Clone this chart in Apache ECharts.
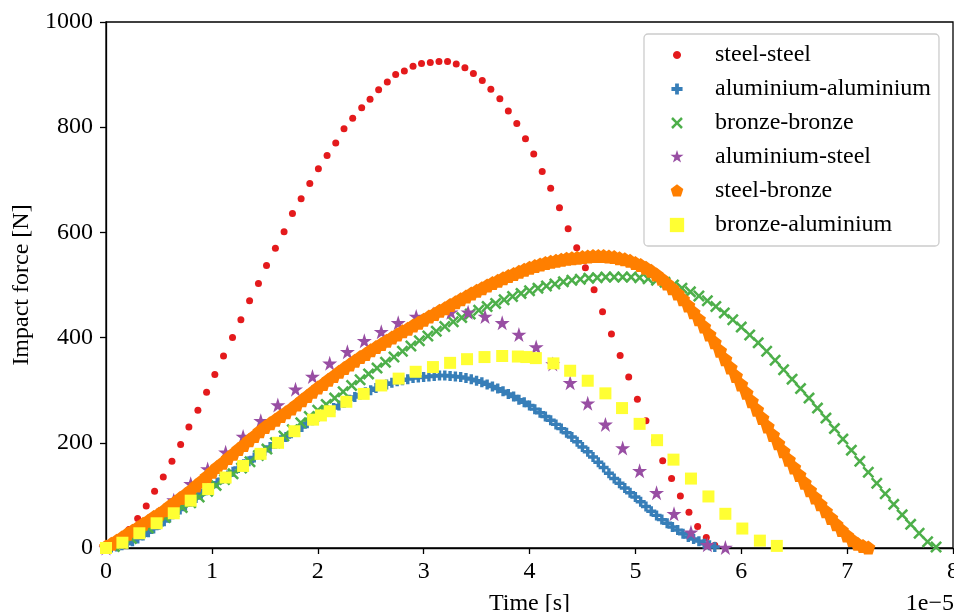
<!DOCTYPE html>
<html>
<head>
<meta charset="utf-8">
<script src="https://cdn.jsdelivr.net/npm/echarts@6/dist/echarts.min.js"></script>
<style>
html,body{margin:0;padding:0;background:#fff;}
#chart{width:954px;height:612px;}
</style>
</head>
<body>
<div id="chart"></div>
<script>
// ---- Data (time in units of 1e-5 s, force in N) ----
const seriesNames = ['steel-steel','aluminium-aluminium','bronze-bronze','aluminium-steel','steel-bronze','bronze-aluminium'];
const xTickLabels = ['0','1','2','3','4','5','6','7','8'];
const axisOffsetText = '1e\u22125';

const steelSteel = [[0.05,3],[0.135,15],[0.217,35],[0.299,56],[0.38,80],[0.459,108],[0.541,135],[0.623,165],[0.705,197],[0.783,230],[0.868,262],[0.95,296],[1.028,330],[1.11,365],[1.195,400],[1.274,434],[1.356,470],[1.44,503],[1.516,537],[1.60,570],[1.682,601],[1.761,636],[1.843,664],[1.925,693],[2.006,721],[2.088,746],[2.17,770],[2.248,797],[2.33,817],[2.415,837],[2.494,853],[2.575,871],[2.657,886],[2.736,900],[2.818,907],[2.90,916],[2.98,921],[3.063,923],[3.145,925],[3.226,925],[3.308,920],[3.39,913],[3.47,902],[3.554,889],[3.635,872],[3.72,854],[3.80,831],[3.88,807],[3.962,778],[4.04,749],[4.12,716],[4.20,684],[4.283,647],[4.365,607],[4.446,571],[4.528,533],[4.61,491],[4.69,449],[4.774,407],[4.856,366],[4.937,325],[5.019,283],[5.10,242],[5.18,204],[5.258,166],[5.342,132],[5.425,99],[5.506,68],[5.588,41],[5.67,20],[5.75,5]];

const aluAlu = [[0.00,0],[0.05,1],[0.10,3],[0.15,5],[0.20,8],[0.25,13],[0.30,18],[0.35,24],[0.40,30],[0.45,37],[0.50,44],[0.55,51],[0.60,58],[0.65,66],[0.70,73],[0.75,81],[0.80,88],[0.85,95],[0.90,103],[0.95,110],[1.00,117],[1.05,124],[1.10,131],[1.15,138],[1.20,145],[1.25,152],[1.30,159],[1.35,165],[1.40,172],[1.45,179],[1.50,185],[1.55,192],[1.60,198],[1.65,205],[1.70,211],[1.75,218],[1.80,224],[1.85,230],[1.90,237],[1.95,243],[2.00,249],[2.05,255],[2.10,260],[2.15,266],[2.20,271],[2.25,276],[2.30,282],[2.35,287],[2.40,292],[2.45,296],[2.50,300],[2.55,304],[2.60,308],[2.65,311],[2.70,314],[2.75,317],[2.80,319],[2.85,321],[2.90,323],[2.95,324],[3.00,325],[3.05,326],[3.10,327],[3.15,328],[3.20,328],[3.25,327],[3.30,326],[3.35,325],[3.40,323],[3.45,321],[3.50,318],[3.55,315],[3.60,311],[3.65,307],[3.70,303],[3.75,298],[3.80,293],[3.85,288],[3.90,282],[3.95,277],[4.00,271],[4.05,264],[4.10,257],[4.15,250],[4.20,243],[4.25,235],[4.30,227],[4.35,219],[4.40,211],[4.45,202],[4.50,192],[4.55,183],[4.60,173],[4.65,163],[4.70,153],[4.75,142],[4.80,132],[4.85,123],[4.90,114],[4.95,105],[5.00,97],[5.05,88],[5.10,79],[5.15,70],[5.20,62],[5.25,54],[5.30,47],[5.35,40],[5.40,34],[5.45,27],[5.50,21],[5.55,17],[5.60,13],[5.65,8],[5.70,5],[5.75,2]];

const bronzeBronze = [[0.00,0],[0.08,3],[0.16,9],[0.24,18],[0.32,28],[0.40,38],[0.48,48],[0.56,58],[0.64,68],[0.72,77],[0.80,86],[0.88,97],[0.96,108],[1.04,119],[1.12,130],[1.20,141],[1.28,152],[1.36,164],[1.44,176],[1.52,188],[1.60,200],[1.68,213],[1.76,225],[1.84,238],[1.92,250],[2.00,262],[2.08,273],[2.16,285],[2.24,297],[2.32,309],[2.40,320],[2.48,331],[2.56,342],[2.64,353],[2.72,363],[2.80,374],[2.88,384],[2.96,394],[3.04,403],[3.12,412],[3.20,421],[3.28,430],[3.36,438],[3.44,445],[3.52,452],[3.60,459],[3.68,465],[3.76,472],[3.84,478],[3.92,484],[4.00,489],[4.08,494],[4.16,498],[4.24,502],[4.32,506],[4.40,509],[4.48,511],[4.56,513],[4.64,514],[4.72,515],[4.80,515],[4.88,515],[4.96,515],[5.04,514],[5.12,512],[5.20,509],[5.28,505],[5.36,500],[5.44,494],[5.52,487],[5.60,479],[5.68,470],[5.76,459],[5.84,447],[5.92,434],[6.00,420],[6.08,405],[6.16,390],[6.24,374],[6.32,357],[6.40,339],[6.48,321],[6.56,303],[6.64,285],[6.72,266],[6.80,247],[6.88,227],[6.96,207],[7.04,186],[7.12,165],[7.20,144],[7.28,123],[7.36,103],[7.44,83],[7.52,63],[7.60,45],[7.68,28],[7.76,12],[7.84,2]];

const aluSteel = [[0.00,0],[0.16,14],[0.32,36],[0.48,62],[0.64,91],[0.80,122],[0.96,150],[1.13,182],[1.295,212],[1.462,242],[1.623,272],[1.79,302],[1.95,326],[2.113,351],[2.28,373],[2.44,394],[2.60,411],[2.76,428],[2.93,440],[3.09,445],[3.258,448],[3.42,448],[3.58,440],[3.742,428],[3.90,406],[4.063,382],[4.22,350],[4.384,314],[4.55,275],[4.717,235],[4.88,190],[5.04,147],[5.20,105],[5.365,65],[5.525,30],[5.68,6],[5.85,1]];

const steelBronze = [[0.00,3],[0.05,8],[0.10,14],[0.15,20],[0.20,27],[0.25,33],[0.30,39],[0.35,46],[0.40,52],[0.45,59],[0.50,65],[0.55,72],[0.60,80],[0.65,87],[0.70,95],[0.75,102],[0.80,110],[0.85,119],[0.90,127],[0.95,136],[1.00,145],[1.05,154],[1.10,162],[1.15,171],[1.20,179],[1.25,188],[1.30,196],[1.35,205],[1.40,213],[1.45,222],[1.50,230],[1.55,237],[1.60,244],[1.65,251],[1.70,258],[1.75,265],[1.80,273],[1.85,281],[1.90,289],[1.95,297],[2.00,305],[2.05,312],[2.10,320],[2.15,327],[2.20,335],[2.25,342],[2.30,349],[2.35,356],[2.40,363],[2.45,369],[2.50,376],[2.55,382],[2.60,388],[2.65,394],[2.70,400],[2.75,406],[2.80,412],[2.85,417],[2.90,423],[2.95,428],[3.00,434],[3.05,440],[3.10,445],[3.15,451],[3.20,456],[3.25,462],[3.30,467],[3.35,473],[3.40,478],[3.45,484],[3.50,489],[3.55,494],[3.60,499],[3.65,504],[3.70,508],[3.75,513],[3.80,517],[3.85,521],[3.90,525],[3.95,529],[4.00,533],[4.05,536],[4.10,539],[4.15,542],[4.20,544],[4.25,546],[4.30,548],[4.35,550],[4.40,551],[4.45,552],[4.50,553],[4.55,554],[4.60,555],[4.65,555],[4.70,555],[4.75,554],[4.80,553],[4.85,551],[4.90,549],[4.95,546],[5.00,542],[5.05,538],[5.10,533],[5.15,527],[5.20,520],[5.25,512],[5.30,503],[5.35,494],[5.40,484],[5.45,473],[5.50,461],[5.55,448],[5.60,435],[5.65,421],[5.70,406],[5.75,391],[5.80,375],[5.85,359],[5.90,343],[5.95,327],[6.00,311],[6.05,295],[6.10,279],[6.15,263],[6.20,247],[6.25,231],[6.30,215],[6.35,199],[6.40,184],[6.45,168],[6.50,153],[6.55,139],[6.60,124],[6.65,110],[6.70,96],[6.75,83],[6.80,70],[6.85,57],[6.90,45],[6.95,34],[7.00,24],[7.05,15],[7.10,8],[7.15,4],[7.20,1]];

const bronzeAlu = [[0.00,0],[0.155,10],[0.315,28],[0.478,47],[0.64,66],[0.80,90],[0.965,112],[1.13,134],[1.295,156],[1.46,179],[1.625,200],[1.78,222],[1.956,244],[2.03,252],[2.113,260],[2.27,278],[2.434,293],[2.60,309],[2.764,322],[2.925,335],[3.088,344],[3.25,352],[3.41,359],[3.575,363],[3.742,365],[3.89,364],[3.97,363],[4.06,361],[4.226,351],[4.384,337],[4.55,318],[4.717,294],[4.874,266],[5.04,236],[5.205,205],[5.36,168],[5.525,132],[5.69,98],[5.85,65],[6.01,37],[6.176,14],[6.336,4]];

// ---- Styling ----
const FONT = 'Liberation Serif';
const colors = ['#e41a1c','#377eb8','#4daf4a','#984ea3','#ff7f00','#ffff33'];
const PLUS = 'path://M-0.34,-1 L0.34,-1 L0.34,-0.34 L1,-0.34 L1,0.34 L0.34,0.34 L0.34,1 L-0.34,1 L-0.34,0.34 L-1,0.34 L-1,-0.34 L-0.34,-0.34 Z';
const XMARK = 'path://M0,-0.3 L0.7,-1 L1,-0.7 L0.3,0 L1,0.7 L0.7,1 L0,0.3 L-0.7,1 L-1,0.7 L-0.3,0 L-1,-0.7 L-0.7,-1 Z';
const STAR = 'path://M0,-1 L0.2245,-0.309 L0.951,-0.309 L0.363,0.118 L0.588,0.809 L0,0.382 L-0.588,0.809 L-0.363,0.118 L-0.951,-0.309 L-0.2245,-0.309 Z';
const PENT = 'path://M0,-1 L0.951,-0.309 L0.588,0.809 L-0.588,0.809 L-0.951,-0.309 Z';
const SQUARE = 'path://M-1,-1 L1,-1 L1,1 L-1,1 Z';
const CIRCLE = 'circle';

function boxed(inner, s) {
  return 'path://M' + (-s) + ',' + (-s) + ' M' + s + ',' + s + ' ' + inner;
}
const circPoly = (function(){
  let p = '';
  for (let i = 0; i < 24; i++) {
    const a = i / 24 * Math.PI * 2;
    p += (i === 0 ? 'M' : 'L') + (Math.cos(a)).toFixed(3) + ',' + (Math.sin(a)).toFixed(3) + ' ';
  }
  return p + 'Z';
})();
const legendIcons = [
  boxed(circPoly, 2.5),
  boxed(PLUS.slice(7), 1.8),
  boxed(XMARK.slice(7), 1.7),
  boxed(STAR.slice(7), 1.45),
  boxed(PENT.slice(7), 1.5),
  boxed(SQUARE.slice(7), 1.4)
];

const symbols = [CIRCLE, PLUS, XMARK, STAR, PENT, SQUARE];
const sizes = [7, 10, 12, 15, 14, 12];
const datasets = [steelSteel, aluAlu, bronzeBronze, aluSteel, steelBronze, bronzeAlu];

const chart = echarts.init(document.getElementById('chart'), null, {renderer: 'canvas'});
const option = {
  animation: false,
  backgroundColor: '#fff',
  textStyle: {fontFamily: FONT},
  grid: {left: 106, right: 1, top: 22, bottom: 64, show: true, borderColor: '#000', borderWidth: 1.3,
         containLabel: false, outerBoundsMode: 'none'},
  legend: {
    orient: 'vertical',
    left: 644, top: 34,
    padding: [9, 8, 9, 23],
    itemWidth: 20, itemHeight: 20, itemGap: 10,
    backgroundColor: 'rgba(255,255,255,0.8)',
    borderColor: '#cccccc', borderWidth: 1.3, borderRadius: 4,
    textStyle: {fontFamily: FONT, fontSize: 24, color: '#000', lineHeight: 24, padding: [0, 0, 0, 23]},
    data: seriesNames.map((n, i) => ({name: n, icon: legendIcons[i]}))
  },
  xAxis: {
    type: 'value', min: 0, max: 8, interval: 1,
    name: 'Time [s]', nameLocation: 'middle', nameGap: 44,
    nameTextStyle: {fontFamily: FONT, fontSize: 24, color: '#000'},
    axisLine: {lineStyle: {color: '#000', width: 1.3}},
    axisTick: {length: 6, lineStyle: {color: '#000', width: 1.3}},
    axisLabel: {fontFamily: FONT, fontSize: 24, color: '#000', margin: 12, showMaxLabel: true, showMinLabel: true,
      hideOverlap: false, formatter: v => xTickLabels[Math.round(v)]},
    splitLine: {show: false}
  },
  yAxis: {
    type: 'value', min: 0, max: 1000, interval: 200,
    name: 'Impact force [N]', nameLocation: 'middle', nameGap: 58,
    nameTextStyle: {fontFamily: FONT, fontSize: 24, color: '#000'},
    axisLine: {show: true, lineStyle: {color: '#000', width: 1.3}},
    axisTick: {show: true, length: 6, lineStyle: {color: '#000', width: 1.3}},
    axisLabel: {fontFamily: FONT, fontSize: 24, color: '#000', margin: 13, formatter: v => String(v)},
    splitLine: {show: false}
  },
  graphic: [{
    type: 'text', right: 0, top: 592,
    style: {text: axisOffsetText, font: '24px "Liberation Serif"', fill: '#000'}
  }],
  series: datasets.map((d, i) => ({
    type: 'scatter',
    name: seriesNames[i],
    data: d,
    symbol: symbols[i],
    symbolSize: sizes[i],
    itemStyle: {color: colors[i], opacity: 1},
    emphasis: {disabled: true},
    clip: false
  }))
};
chart.setOption(option);
</script>
</body>
</html>
